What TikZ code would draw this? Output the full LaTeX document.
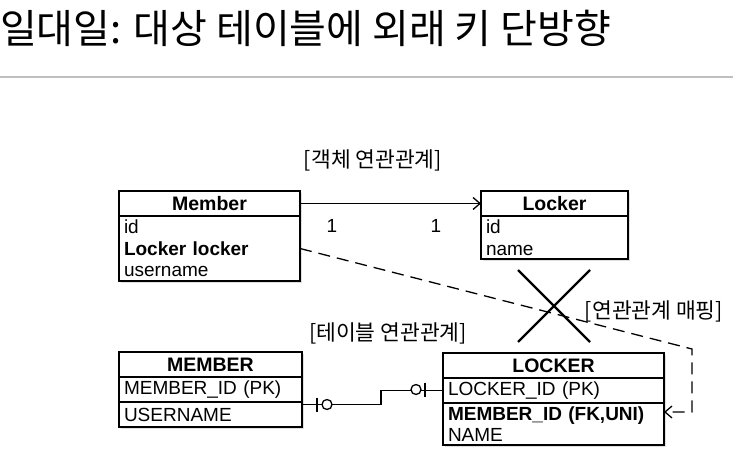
\documentclass[tikz,border=0pt]{standalone}
\usepackage{fontspec}
\setmainfont{Liberation Sans}
\newfontfamily\kr{Noto Sans CJK KR}
\usetikzlibrary{positioning,shadows,arrows.meta}

\begin{document}
\begin{tikzpicture}[x=1pt,y=-1pt,
ent/.style={draw,line width=1.7pt,fill=white,inner sep=0pt,outer sep=0pt,drop shadow={shadow xshift=1.5pt,shadow yshift=-2pt,opacity=.25}},
head/.style={ent,minimum height=25pt,font=\fontsize{19.5}{20}\selectfont\bfseries},
attr/.style={ent,text width=#1,align=left,inner xsep=5pt,font=\fontsize{19}{21.5}\selectfont},
lbl/.style={font=\kr\fontsize{21.5}{24}\selectfont},
conn/.style={line width=1.3pt}]
\useasboundingbox (0,0) rectangle (733,468);
\node[anchor=west,inner sep=0pt,font=\kr\fontsize{40}{42}\selectfont](title) at (0,28){일대일: 대상 테이블에 외래 키 단방향};
\draw[line width=1.2pt,black!25](0,77)--(733,77);
% object side
\node[head,minimum width=181pt,anchor=north west](memh) at (119,191){Member};
\node[attr=171pt,minimum height=65pt,below=0pt of memh](memb){id\\\textbf{Locker locker}\\username};
\node[head,minimum width=147pt,anchor=north west](lockh) at (481,191){Locker};
\node[attr=137pt,minimum height=43pt,below=0pt of lockh](lockb){id\\name};
\draw[conn,-{Straight Barb[length=7pt,width=12pt]}](memh)--(lockh);
\node[font=\fontsize{19}{20}\selectfont](m1) at (332,226){1};
\node[font=\fontsize{19}{20}\selectfont](l1) at (436,226){1};
\node[lbl](objlbl) at (373,160){[객체 연관관계]};
% table side
\node[head,minimum width=183pt,anchor=north west](tmem) at (119,352){MEMBER};
\node[attr=173pt,minimum height=25pt,below=0pt of tmem](tmempk){MEMBER\_ID (PK)};
\node[attr=173pt,minimum height=25pt,below=0pt of tmempk](tmemnm){USERNAME};
\node[head,minimum width=221pt,anchor=north west](tlock) at (443,353){LOCKER};
\node[attr=211pt,minimum height=25pt,below=0pt of tlock](tlockpk){LOCKER\_ID (PK)};
\node[attr=211pt,minimum height=42pt,below=0pt of tlockpk](tlockfk){\textbf{MEMBER\_ID (FK,UNI)}\\NAME};
\node[lbl](tbllbl) at (388,333){[테이블 연관관계]};
\node[lbl](maplbl) at (654,311){[연관관계 매핑]};
\coordinate(jog) at (381,397);
\draw[conn]([yshift=10pt]tmemnm.east)-|(jog)|-(tlockpk.west);
\draw[conn](317,397.5)--(317,411.5);
\draw[conn,fill=white](327,404.5)circle(5);
\draw[conn](425,382.5)--(425,396.5);
\draw[conn,fill=white](416,389.5)circle(5);
% mapping
\coordinate(bend) at (692,349);
\draw[conn,dash pattern=on 12pt off 7pt,-{Straight Barb[length=7pt,width=12pt]}](memb.east)--(bend)|-([yshift=12pt]tlockfk.east);
\coordinate(cross) at (554,306);
\draw[line width=2.4pt](cross)+(-36,-36)--+(36,36);
\draw[line width=2.4pt](cross)+(36,-36)--+(-36,36);
\end{tikzpicture}
\end{document}
